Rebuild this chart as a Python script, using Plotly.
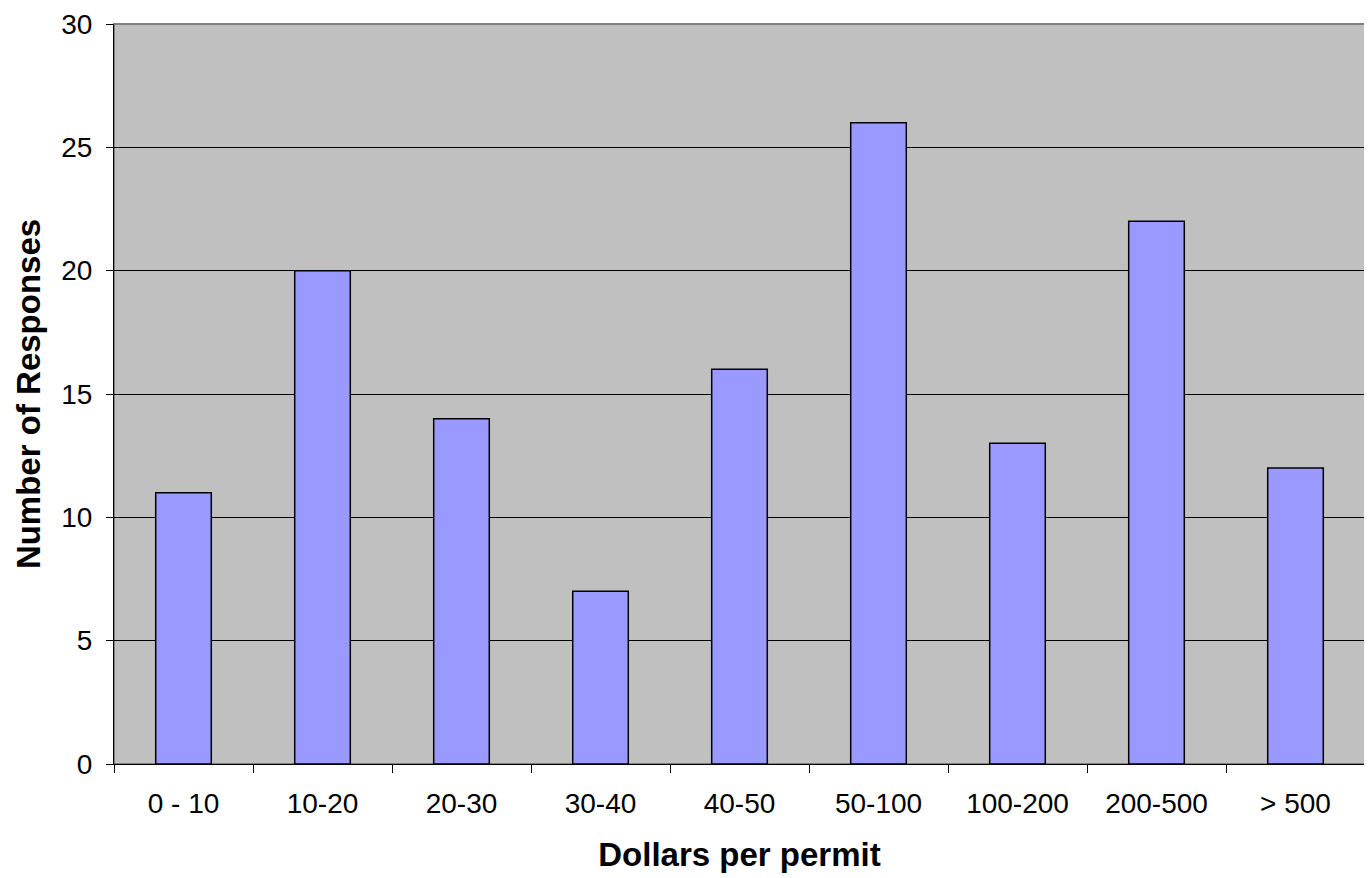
import plotly.graph_objects as go

categories = ["0 - 10", "10-20", "20-30", "30-40", "40-50", "50-100", "100-200", "200-500", "> 500"]
responses = [11, 20, 14, 7, 16, 26, 13, 22, 12]
y_ticks = [0, 5, 10, 15, 20, 25, 30]

fig = go.Figure()
fig.add_trace(go.Bar(
    x=categories, y=responses,
    marker=dict(color="#9999FF", line=dict(color="black", width=1.5)),
    width=0.4,
))

font = "Liberation Sans, Arial, sans-serif"
fig.update_layout(
    width=1364, height=870,
    margin=dict(l=106, r=7, t=16, b=114, autoexpand=False),
    paper_bgcolor="white",
    plot_bgcolor="#C0C0C0",
    showlegend=False,
    font=dict(family=font, size=28, color="black"),
    shapes=[dict(type="rect", xref="paper", yref="paper", x0=0, x1=1, y0=0, y1=1,
                 line=dict(color="#808080", width=2), layer="below")],
)
fig.update_xaxes(
    type="category", range=[-0.5, 8.5], automargin=False,
    showline=True, linecolor="black", linewidth=1,
    ticks="outside", ticklen=8, tickcolor="black",
    tickson="boundaries", ticklabelstandoff=14,
    showgrid=False,
    tickfont=dict(size=28),
    title=dict(text="<b>Dollars per permit</b>", font=dict(size=33), standoff=25),
)
fig.update_yaxes(
    range=[0, 30], tickvals=y_ticks, automargin=False,
    showline=True, linecolor="black", linewidth=1,
    ticks="outside", ticklen=7, tickcolor="black",
    ticklabelstandoff=8,
    showgrid=True, gridcolor="black", gridwidth=1,
    zeroline=False,
    tickfont=dict(size=28),
    title=dict(text="<b>Number of Responses</b>", font=dict(size=33), standoff=10),
)
fig.write_html("out.html")
